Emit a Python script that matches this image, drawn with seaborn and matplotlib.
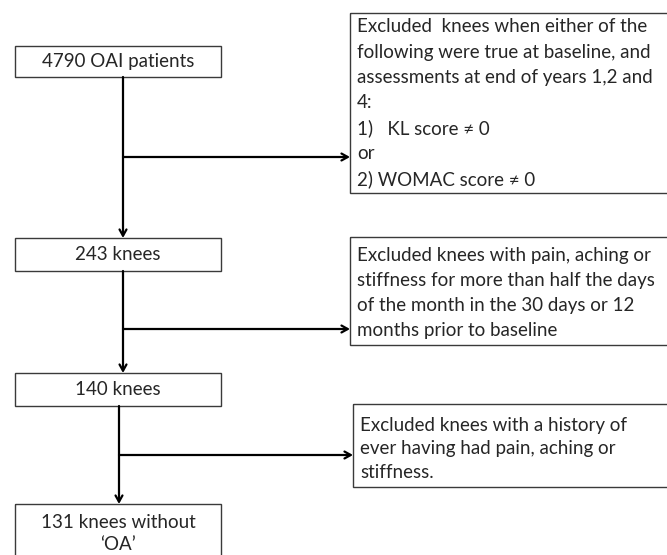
import matplotlib.pyplot as plt
import matplotlib.patches as mpatches
import seaborn as sns

# Flowchart content
main_labels = ['4790 OAI patients', '243 knees', '140 knees', '131 knees without\n\u2018OA\u2019']
exclusion_labels = [
    'Excluded  knees when either of the\nfollowing were true at baseline, and\n'
    'assessments at end of years 1,2 and\n4:\n1)   KL score \u2260 0\nor\n2) WOMAC score \u2260 0',
    'Excluded knees with pain, aching or\nstiffness for more than half the days\n'
    'of the month in the 30 days or 12\nmonths prior to baseline',
    'Excluded knees with a history of\never having had pain, aching or\nstiffness.',
]

# layout (pixel coords, y downward): x, y, width, height
main_boxes = [(15, 46, 206, 31), (15, 238, 206, 33), (15, 373, 206, 33), (15, 504, 206, 60)]
excl_boxes = [(350, 13, 330, 180), (350, 237, 330, 108), (353, 404, 330, 83)]
excl_first_line = [27, 256, 425]
excl_spacing = [25.3, 24.7, 23.5]
trunk_x = [123, 123, 119]
branch_y = [157, 329, 455]

sns.set_style('white')
plt.rcParams['font.family'] = ['Lato', 'DejaVu Sans']

fig = plt.figure(figsize=(6.67, 5.55), dpi=100)
ax = fig.add_axes([0, 0, 1, 1])
ax.set_xlim(0, 667)
ax.set_ylim(555, 0)
ax.axis('off')

fs = 13.5
edge = '#3a3a3a'

for (x, y, w, h), lab in zip(main_boxes, main_labels):
    ax.add_patch(mpatches.Rectangle((x, y), w, h, fill=False, ec=edge, lw=1.0))
    lines = lab.split('\n')
    if len(lines) == 1:
        ax.text(x + w / 2, y + h / 2, lab, ha='center', va='center', fontsize=fs)
    else:
        for k, ln in enumerate(lines):
            ax.text(x + w / 2, y + 18 + k * 23, ln, ha='center', va='center', fontsize=fs)

for (x, y, w, h), lab, y0, dy in zip(excl_boxes, exclusion_labels, excl_first_line, excl_spacing):
    ax.add_patch(mpatches.Rectangle((x, y), w, h, fill=False, ec=edge, lw=1.0))
    for k, ln in enumerate(lab.split('\n')):
        ax.text(x + 7, y0 + k * dy, ln, ha='left', va='center', fontsize=fs)

arrow_kw = dict(arrowstyle='->,head_length=0.45,head_width=0.25', color='black', lw=1.6,
                shrinkA=0, shrinkB=0)
for i in range(3):
    top = main_boxes[i][1] + main_boxes[i][3]
    bottom = main_boxes[i + 1][1]
    ax.annotate('', xy=(trunk_x[i], bottom), xytext=(trunk_x[i], top), arrowprops=arrow_kw)
    ax.annotate('', xy=(excl_boxes[i][0], branch_y[i]), xytext=(trunk_x[i], branch_y[i]),
                arrowprops=arrow_kw)

fig.savefig('out.png', dpi=100)
